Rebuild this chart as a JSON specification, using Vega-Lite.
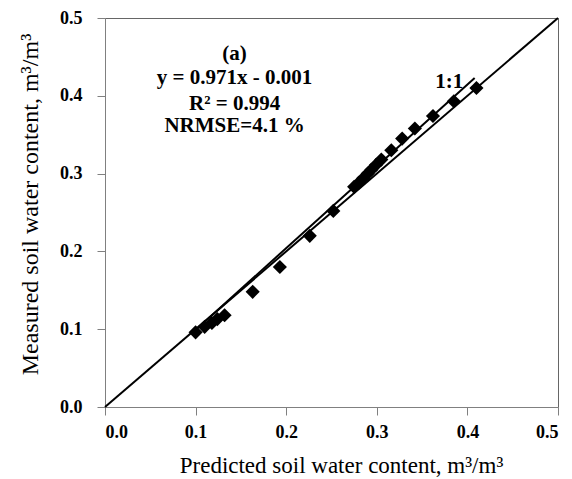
{
  "$schema": "https://vega.github.io/schema/vega-lite/v6.json",
  "width": 453,
  "height": 389,
  "autosize": "none",
  "padding": {"left": 105, "top": 18, "right": 14, "bottom": 72},
  "background": "white",
  "config": {
    "view": {"stroke": "#666666", "strokeWidth": 1},
    "font": "Liberation Serif"
  },
  "datasets": {
    "points": [
      {"pred": 0.100, "meas": 0.096},
      {"pred": 0.110, "meas": 0.103},
      {"pred": 0.118, "meas": 0.108},
      {"pred": 0.124, "meas": 0.113},
      {"pred": 0.132, "meas": 0.118},
      {"pred": 0.163, "meas": 0.148},
      {"pred": 0.193, "meas": 0.180},
      {"pred": 0.226, "meas": 0.220},
      {"pred": 0.252, "meas": 0.252},
      {"pred": 0.275, "meas": 0.283},
      {"pred": 0.280, "meas": 0.288},
      {"pred": 0.285, "meas": 0.294},
      {"pred": 0.290, "meas": 0.300},
      {"pred": 0.294, "meas": 0.305},
      {"pred": 0.299, "meas": 0.311},
      {"pred": 0.305, "meas": 0.318},
      {"pred": 0.316, "meas": 0.330},
      {"pred": 0.328, "meas": 0.345},
      {"pred": 0.342, "meas": 0.358},
      {"pred": 0.362, "meas": 0.374},
      {"pred": 0.385, "meas": 0.393},
      {"pred": 0.410, "meas": 0.410}
    ],
    "oneToOne": [
      {"pred": 0.0, "meas": 0.0},
      {"pred": 0.5, "meas": 0.5}
    ],
    "trend": [
      {"pred": 0.100, "meas": 0.099},
      {"pred": 0.408, "meas": 0.423}
    ],
    "labels": [
      {"pred": 0.143, "meas": 0.454, "text": "(a)"},
      {"pred": 0.143, "meas": 0.423, "text": "y = 0.971x - 0.001"},
      {"pred": 0.143, "meas": 0.389, "text": "R² = 0.994"},
      {"pred": 0.143, "meas": 0.361, "text": "NRMSE=4.1 %"},
      {"pred": 0.380, "meas": 0.418, "text": "1:1"}
    ]
  },
  "layer": [
    {
      "data": {"name": "oneToOne"},
      "mark": {"type": "line", "color": "black", "strokeWidth": 2},
      "encoding": {
        "x": {
          "field": "pred", "type": "quantitative",
          "scale": {"domain": [0, 0.5], "nice": false},
          "axis": {
            "title": "Predicted soil water content, m³/m³",
            "values": [0, 0.1, 0.2, 0.3, 0.4, 0.5],
            "format": ".1f",
            "grid": false,
            "domainColor": "#808080",
            "tickColor": "#808080",
            "tickSize": 8,
            "labelPadding": 8,
            "labelFont": "Liberation Serif",
            "labelFontWeight": "bold",
            "labelFontSize": 18,
            "labelColor": "black",
            "titleFont": "Liberation Serif",
            "titleFontWeight": "normal",
            "titleFontSize": 23,
            "titleColor": "black",
            "titlePadding": 13,
            "titleX": 236
          }
        },
        "y": {
          "field": "meas", "type": "quantitative",
          "scale": {"domain": [0, 0.5], "nice": false},
          "axis": {
            "title": "Measured soil water content, m³/m³",
            "values": [0, 0.1, 0.2, 0.3, 0.4, 0.5],
            "format": ".1f",
            "grid": false,
            "domainColor": "#808080",
            "tickColor": "#808080",
            "tickSize": 8,
            "labelPadding": 15,
            "labelFont": "Liberation Serif",
            "labelFontWeight": "bold",
            "labelFontSize": 18,
            "labelColor": "black",
            "titleFont": "Liberation Serif",
            "titleFontWeight": "normal",
            "titleFontSize": 24,
            "titleColor": "black",
            "titlePadding": 17,
            "titleY": 186
          }
        }
      }
    },
    {
      "data": {"name": "trend"},
      "mark": {"type": "line", "color": "black", "strokeWidth": 2},
      "encoding": {
        "x": {"field": "pred", "type": "quantitative"},
        "y": {"field": "meas", "type": "quantitative"}
      }
    },
    {
      "data": {"name": "points"},
      "mark": {"type": "point", "shape": "diamond", "filled": true, "color": "black", "opacity": 1, "size": 200},
      "encoding": {
        "x": {"field": "pred", "type": "quantitative"},
        "y": {"field": "meas", "type": "quantitative"}
      }
    },
    {
      "data": {"name": "labels"},
      "mark": {"type": "text", "font": "Liberation Serif", "fontWeight": "bold", "fontSize": 21, "color": "black", "align": "center", "baseline": "middle"},
      "encoding": {
        "x": {"field": "pred", "type": "quantitative"},
        "y": {"field": "meas", "type": "quantitative"},
        "text": {"field": "text"}
      }
    }
  ]
}
